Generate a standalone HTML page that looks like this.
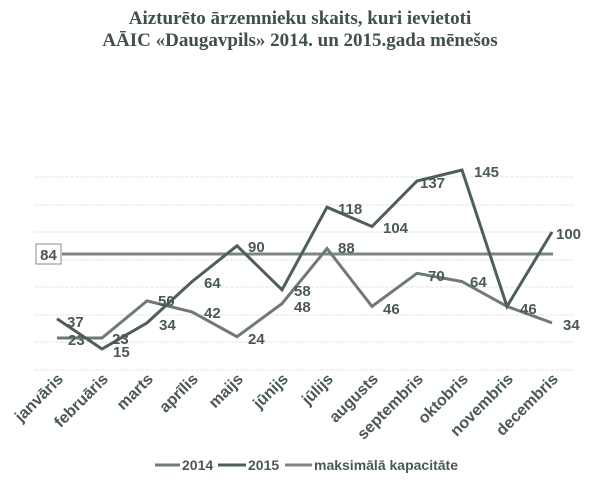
<!DOCTYPE html>
<html><head><meta charset="utf-8"><style>
body{margin:0;background:#fff;}
svg{display:block;}
text{font-family:"Liberation Sans",sans-serif;font-weight:bold;fill:#4a5958;}
</style></head><body>
<svg width="600" height="489" viewBox="0 0 600 489" xmlns="http://www.w3.org/2000/svg">
<rect width="600" height="489" fill="#fff"/>
<text x="300" y="24" text-anchor="middle" style="font-family:'Liberation Serif',serif;font-size:19px;fill:#3f4f4e">Aizturēto ārzemnieku skaits, kuri ievietoti</text>
<text x="300" y="46" text-anchor="middle" style="font-family:'Liberation Serif',serif;font-size:19px;fill:#3f4f4e">AĀIC «Daugavpils» 2014. un 2015.gada mēnešos</text>
<g stroke="#e4e4e4" stroke-width="1" stroke-dasharray="4,1">
<line x1="35" x2="573" y1="370" y2="370"/><line x1="35" x2="573" y1="342" y2="342"/>
<line x1="35" x2="573" y1="315" y2="315"/><line x1="35" x2="573" y1="287" y2="287"/>
<line x1="35" x2="573" y1="260" y2="260"/><line x1="35" x2="573" y1="232" y2="232"/>
<line x1="35" x2="573" y1="205" y2="205"/><line x1="35" x2="573" y1="177" y2="177"/>
</g>
<line x1="62" x2="553" y1="254" y2="254" stroke="#7d8684" stroke-width="3"/>
<rect x="36" y="244" width="25" height="20" fill="#fff" stroke="#888" stroke-width="1"/>
<text x="48.5" y="260" text-anchor="middle" font-size="15">84</text>
<polyline fill="none" stroke="#6f7a78" stroke-width="3" points="57,338 102,338 147,300.9 192,311.9 237,336.7 282,303.6 327,248.5 372,306.4 417,273.3 462,281.6 507,306.4 552,322.9"/>
<polyline fill="none" stroke="#4e5e5c" stroke-width="3" points="57,318.7 102,349 147,322.9 192,281.6 237,245.8 282,289.8 327,207.2 372,226.5 417,181 462,170 507,306.4 552,232"/>
<g font-size="15">
<text x="67" y="327">37</text><text x="113" y="357">15</text><text x="159" y="330">34</text>
<text x="204" y="288">64</text><text x="248" y="252">90</text><text x="294" y="296">58</text>
<text x="338" y="214">118</text><text x="383" y="233">104</text><text x="420" y="188">137</text>
<text x="474" y="177">145</text><text x="556" y="239">100</text>
<text x="68" y="345">23</text><text x="112" y="344">23</text><text x="158" y="306">50</text>
<text x="204" y="318">42</text><text x="248" y="344">24</text><text x="294" y="312">48</text>
<text x="338" y="253">88</text><text x="383" y="314">46</text><text x="428" y="281">70</text>
<text x="470" y="287">64</text><text x="520" y="314">46</text><text x="563" y="330">34</text>
</g>
<g font-size="16" text-anchor="end">
<text transform="translate(64,380) rotate(-45)">janvāris</text>
<text transform="translate(109,380) rotate(-45)">februāris</text>
<text transform="translate(154,380) rotate(-45)">marts</text>
<text transform="translate(199,380) rotate(-45)">aprīlis</text>
<text transform="translate(244,380) rotate(-45)">maijs</text>
<text transform="translate(289,380) rotate(-45)">jūnijs</text>
<text transform="translate(334,380) rotate(-45)">jūlijs</text>
<text transform="translate(379,380) rotate(-45)">augusts</text>
<text transform="translate(424,380) rotate(-45)">septembris</text>
<text transform="translate(469,380) rotate(-45)">oktobris</text>
<text transform="translate(514,380) rotate(-45)">novembris</text>
<text transform="translate(559,380) rotate(-45)">decembris</text>
</g>
<line x1="155" x2="180" y1="465" y2="465" stroke="#6f7a78" stroke-width="3"/>
<text x="182" y="470" font-size="14">2014</text>
<line x1="218" x2="246" y1="465" y2="465" stroke="#4e5e5c" stroke-width="3"/>
<text x="248" y="470" font-size="14">2015</text>
<line x1="285" x2="312" y1="465" y2="465" stroke="#7d8684" stroke-width="3"/>
<text x="314" y="470" font-size="14">maksimālā kapacitāte</text>
</svg>
</body></html>
